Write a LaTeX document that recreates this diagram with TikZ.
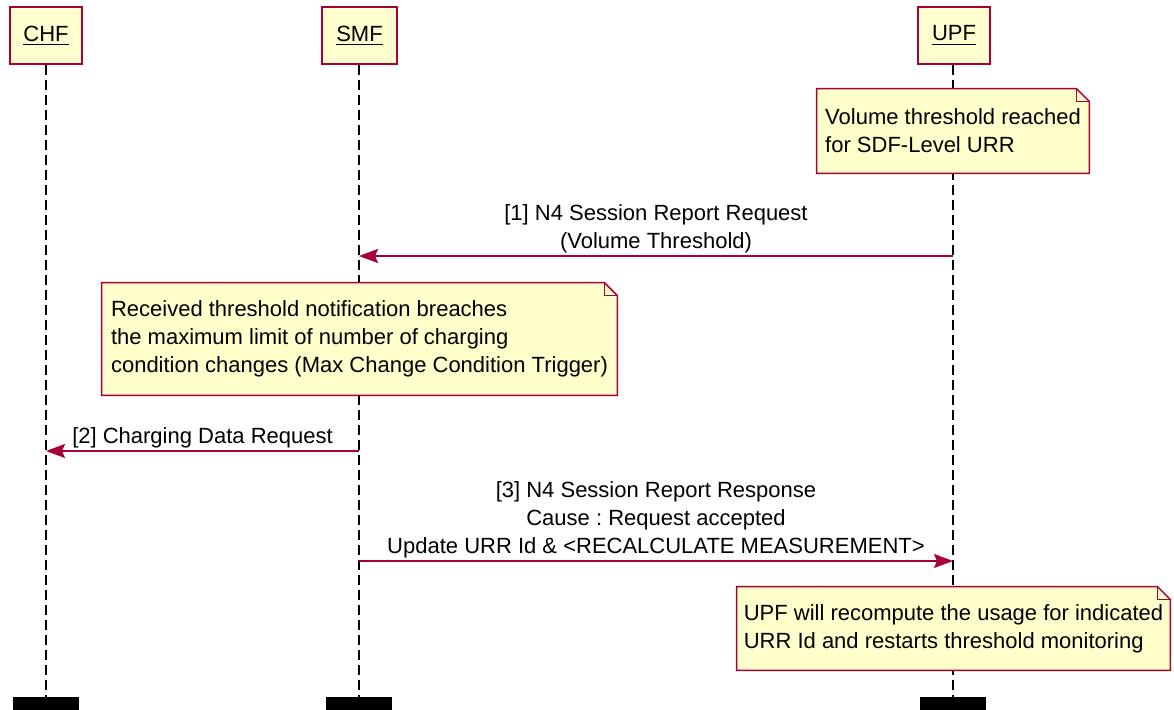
\documentclass[tikz,border=0pt]{standalone}
\usepackage{fontspec}
\setmainfont{Liberation Sans}
\usetikzlibrary{arrows.meta,positioning,calc,backgrounds}
\frenchspacing

\definecolor{umlred}{HTML}{A80036}
\definecolor{umlbox}{HTML}{FEFECE}
\definecolor{umlnote}{HTML}{FFFFCC}

\tikzset{
  actor/.style={draw=umlred, fill=umlbox, line width=0.75pt,
    minimum width=36pt, minimum height=28.5pt, inner sep=0pt},
  lifeend/.style={fill=black, minimum width=33pt, minimum height=7pt,
    inner sep=0pt, anchor=north},
  lifeline/.style={black, line width=0.6pt, dash pattern=on 5pt off 2.5pt},
  notetxt/.style={align=left, inner sep=0pt},
  noteframe/.style={draw=umlred, fill=umlnote, line width=0.75pt, line join=miter},
  msg/.style={umlred, line width=0.75pt,
    -{Stealth[length=9.5pt,width=7pt,inset=1.5pt]}},
  msglabel/.style={black, align=center, inner sep=1pt}
}

\begin{document}
\begin{tikzpicture}[x=0.5pt, y=-0.5pt, font=\fontsize{11pt}{14pt}\selectfont]

\useasboundingbox (0,0) rectangle (1174,710);

% participants
\node[actor] (chf) at (46,35.5) {\underline{CHF}};
\node[actor, minimum width=37.5pt] (smf) at (359.5,35.5) {\underline{SMF}};
\node[actor] (upf) at (954,35.5) {\underline{UPF}};

\node[lifeend] (chfEnd) at (46,697) {};
\node[lifeend] (smfEnd) at (359,697) {};
\node[lifeend] (upfEnd) at (953,697) {};

% notes
\node[notetxt, minimum width=136pt, minimum height=42pt] (n1) at (953,131)
  {Volume threshold reached\\for SDF-Level URR};
\node[notetxt, minimum width=257.5pt, minimum height=56pt] (n2) at (359.5,339)
  {Received threshold notification breaches\\the maximum limit of number of charging\\condition changes (Max Change Condition Trigger)};
\node[notetxt, minimum width=216.5pt, minimum height=41.5pt] (n3) at (953.5,628.5)
  {UPF will recompute the usage for indicated\\URR Id and restarts threshold monitoring};

\begin{scope}[on background layer]
  \draw[lifeline] (chf) -- (chfEnd);
  \draw[lifeline] (smf.south -| smfEnd) -- (smfEnd);
  \draw[lifeline] (upf.south -| upfEnd) -- (upfEnd);

  \foreach \n in {n1,n2,n3} {
    \draw[noteframe] (\n.north west) -- ($ (\n.north east) + (-13,0) $)
      -- ($ (\n.north east) + (0,13) $) -- (\n.south east) -- (\n.south west) -- cycle;
    \draw[umlred, line width=0.75pt] ($ (\n.north east) + (-13,0) $)
      -- ++(0,13) -- ($ (\n.north east) + (0,13) $);
  }
\end{scope}

% messages
\coordinate (m1a) at (upfEnd.north |- 0,256);
\coordinate (m1b) at (smfEnd.north |- 0,256);
\coordinate (m2a) at (smfEnd.north |- 0,451);
\coordinate (m2b) at (chfEnd.north |- 0,451);
\coordinate (m3a) at (smfEnd.north |- 0,561);
\coordinate (m3b) at (upfEnd.north |- 0,561);

\draw[msg] (m1a) -- (m1b)
  node[msglabel, above, midway] (m1lbl) {[1] N4 Session Report Request\\(Volume Threshold)};
\draw[msg] (m2a) -- (m2b)
  node[msglabel, above, midway] (m2lbl) {[2] Charging Data Request};
\draw[msg] (m3a) -- (m3b)
  node[msglabel, above, midway] (m3lbl) {[3] N4 Session Report Response\\Cause : Request accepted\\Update URR Id \& <RECALCULATE MEASUREMENT>};

\end{tikzpicture}
\end{document}
